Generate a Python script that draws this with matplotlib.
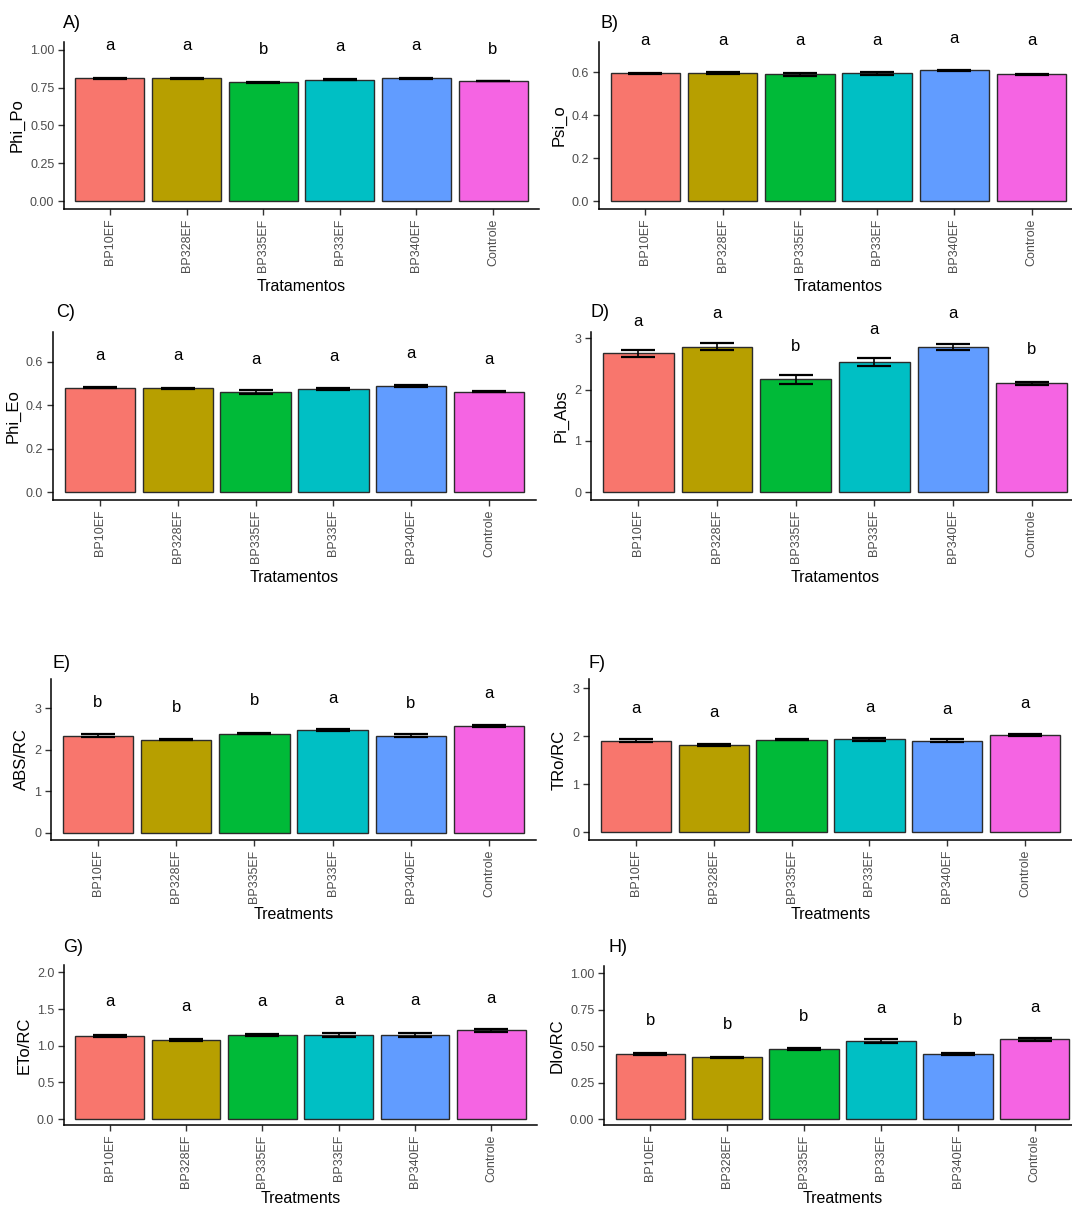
import matplotlib
matplotlib.use("Agg")
import matplotlib.pyplot as plt
import numpy as np

plt.rcParams["font.family"] = ["Liberation Sans", "DejaVu Sans"]

treatments = ["BP10EF", "BP328EF", "BP335EF", "BP33EF", "BP340EF", "Controle"]
colors = ["#F8766D", "#B79F00", "#00BA38", "#00BFC4", "#619CFF", "#F564E3"]

# A) Phi_Po
phi_po = [0.811, 0.811, 0.785, 0.802, 0.811, 0.793]
phi_po_se = [0.002, 0.002, 0.004, 0.003, 0.002, 0.002]
phi_po_let = ["a", "a", "b", "a", "a", "b"]
phi_po_let_y = [1.025, 1.025, 1.003, 1.018, 1.025, 1.003]

# B) Psi_o
psi_o = [0.595, 0.595, 0.590, 0.595, 0.608, 0.590]
psi_o_se = [0.002, 0.004, 0.008, 0.008, 0.004, 0.002]
psi_o_let = ["a", "a", "a", "a", "a", "a"]
psi_o_let_y = [0.749, 0.748, 0.747, 0.748, 0.758, 0.745]

# C) Phi_Eo
phi_eo = [0.480, 0.478, 0.462, 0.475, 0.490, 0.463]
phi_eo_se = [0.002, 0.003, 0.008, 0.004, 0.004, 0.002]
phi_eo_let = ["a", "a", "a", "a", "a", "a"]
phi_eo_let_y = [0.627, 0.627, 0.612, 0.624, 0.638, 0.612]

# D) Pi_Abs
pi_abs = [2.706, 2.83, 2.196, 2.535, 2.83, 2.118]
pi_abs_se = [0.07, 0.07, 0.08, 0.08, 0.055, 0.035]
pi_abs_let = ["a", "a", "b", "a", "a", "b"]
pi_abs_let_y = [3.33, 3.48, 2.84, 3.16, 3.48, 2.77]

# E) ABS/RC
abs_rc = [2.337, 2.24, 2.385, 2.465, 2.337, 2.57]
abs_rc_se = [0.03, 0.02, 0.02, 0.03, 0.03, 0.03]
abs_rc_let = ["b", "b", "b", "a", "b", "a"]
abs_rc_let_y = [3.14, 3.01, 3.17, 3.24, 3.12, 3.35]

# F) TRo/RC
tro_rc = [1.907, 1.817, 1.928, 1.94, 1.907, 2.03]
tro_rc_se = [0.025, 0.025, 0.015, 0.03, 0.025, 0.025]
tro_rc_let = ["a", "a", "a", "a", "a", "a"]
tro_rc_let_y = [2.58, 2.50, 2.58, 2.60, 2.55, 2.69]

# G) ETo/RC
eto_rc = [1.13, 1.08, 1.149, 1.149, 1.149, 1.208]
eto_rc_se = [0.015, 0.01, 0.01, 0.025, 0.025, 0.015]
eto_rc_let = ["a", "a", "a", "a", "a", "a"]
eto_rc_let_y = [1.597, 1.53, 1.597, 1.61, 1.61, 1.648]

# H) DIo/RC
dio_rc = [0.448, 0.425, 0.48, 0.537, 0.448, 0.547]
dio_rc_se = [0.006, 0.003, 0.004, 0.012, 0.006, 0.012]
dio_rc_let = ["b", "b", "b", "a", "b", "a"]
dio_rc_let_y = [0.675, 0.65, 0.702, 0.755, 0.675, 0.764]

W, H = 1072, 1207
fig = plt.figure(figsize=(W / 100, H / 100), dpi=100)

panels = [
    # tag, ylabel, xlabel, means, se, letters, letter y, ylim, yticks, fmt, box px (x0, x1, y0, y1), tag pos, xlabel pad
    ("A)", "Phi_Po", "Tratamentos", phi_po, phi_po_se, phi_po_let, phi_po_let_y,
     (-0.05, 1.05), [0, 0.25, 0.5, 0.75, 1.0], "{:.2f}", (64, 539, 42, 209), (63, 24), 5),
    ("B)", "Psi_o", "Tratamentos", psi_o, psi_o_se, psi_o_let, psi_o_let_y,
     (-0.035, 0.74), [0, 0.2, 0.4, 0.6], "{:.1f}", (599, 1078, 42, 209), (601, 24), 5),
    ("C)", "Phi_Eo", "Tratamentos", phi_eo, phi_eo_se, phi_eo_let, phi_eo_let_y,
     (-0.035, 0.737), [0, 0.2, 0.4, 0.6], "{:.1f}", (53, 536, 332, 500), (56, 313), 5),
    ("D)", "Pi_Abs", "Tratamentos", pi_abs, pi_abs_se, pi_abs_let, pi_abs_let_y,
     (-0.15, 3.12), [0, 1, 2, 3], "{:.0f}", (591, 1079, 332, 500), (590, 313), 5),
    ("E)", "ABS/RC", "Treatments", abs_rc, abs_rc_se, abs_rc_let, abs_rc_let_y,
     (-0.18, 3.7), [0, 1, 2, 3], "{:.0f}", (51, 536, 679, 840), (53, 663), 3),
    ("F)", "TRo/RC", "Treatments", tro_rc, tro_rc_se, tro_rc_let, tro_rc_let_y,
     (-0.16, 3.19), [0, 1, 2, 3], "{:.0f}", (589, 1072, 679, 840), (589, 663), 3),
    ("G)", "ETo/RC", "Treatments", eto_rc, eto_rc_se, eto_rc_let, eto_rc_let_y,
     (-0.08, 2.1), [0, 0.5, 1.0, 1.5, 2.0], "{:.1f}", (64, 537, 965, 1125), (63, 948), 2),
    ("H)", "DIo/RC", "Treatments", dio_rc, dio_rc_se, dio_rc_let, dio_rc_let_y,
     (-0.041, 1.05), [0, 0.25, 0.5, 0.75, 1.0], "{:.2f}", (604, 1081, 966, 1125), (608, 947), 2),
]

x = np.arange(len(treatments))

for tag, ylab, xlab, means, se, lets, let_y, ylim, yticks, fmt, box, tagpos, xpad in panels:
    x0, x1, y0, y1 = box
    ax = fig.add_axes([x0 / W, 1 - y1 / H, (x1 - x0) / W, (y1 - y0) / H])
    ax.bar(x, means, width=0.9, color=colors, edgecolor="#2b2b2b", linewidth=1.0, zorder=2)
    ax.errorbar(x, means, yerr=se, fmt="none", ecolor="black", elinewidth=1.2,
                capsize=12, capthick=1.6, zorder=3)
    for xi, lab, ly in zip(x, lets, let_y):
        ax.text(xi, ly, lab, ha="center", va="center", fontsize=12, color="black", clip_on=False)

    ax.set_xlim(-0.6, 5.6)
    ax.set_ylim(*ylim)
    ax.set_yticks(yticks)
    ax.set_yticklabels([fmt.format(v) for v in yticks])
    ax.set_xticks(x)
    ax.set_xticklabels(treatments, rotation=90, ha="center", va="top")
    ax.tick_params(axis="both", labelsize=9, labelcolor="#4d4d4d", color="#333333",
                   length=4, width=1.0, direction="out", pad=3)
    for s in ("top", "right"):
        ax.spines[s].set_visible(False)
    for s in ("left", "bottom"):
        ax.spines[s].set_linewidth(1.1)
        ax.spines[s].set_color("black")
    ax.set_xlabel(xlab, fontsize=11.5, labelpad=xpad)
    ax.set_ylabel(ylab, fontsize=12, labelpad=4)

    fig.text(tagpos[0] / W, 1 - tagpos[1] / H, tag, ha="left", va="center", fontsize=13)

fig.savefig("out.png", dpi=100)
